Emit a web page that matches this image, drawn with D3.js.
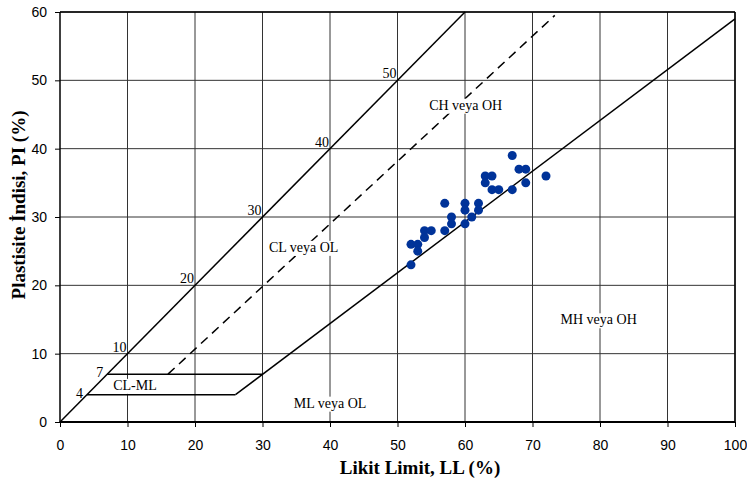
<!DOCTYPE html>
<html>
<head>
<meta charset="utf-8">
<script src="https://cdn.jsdelivr.net/npm/d3@7"></script>
<style>
  body { margin: 0; background: #fff; }
  .tick text { font-family: "Liberation Sans", Arial, sans-serif; font-size: 14px; fill: #000; }
  .lbl { font-family: "Liberation Serif", "Times New Roman", serif; font-size: 14px; fill: #000; }
  .title { font-family: "Liberation Serif", "Times New Roman", serif; font-size: 19px; font-weight: bold; fill: #000; }
</style>
</head>
<body>
<div id="chart"></div>
<script>
// sample points (LL, PI)
var samplesLL = [67, 68, 69, 72, 63, 64, 63, 69, 64, 65, 67, 57, 60, 62, 60, 62, 61, 58, 60, 58, 57, 54, 55, 54, 52, 53, 53, 52];
var samplesPI = [39, 37, 37, 36, 36, 36, 35, 35, 34, 34, 34, 32, 32, 32, 31, 31, 30, 30, 29, 29, 28, 28, 28, 27, 26, 26, 25, 23];

// chart lines
var lineLL45 = [0, 60];        // PI = LL
var linePI45 = [0, 60];
var aLineLL = [26, 100];       // A-line
var aLinePI = [4, 59];
var uLineLL = [16, 73.3];      // U-line (dashed)
var uLinePI = [7, 59.5];
var clmlLow = [[4, 4], [26, 4]];
var clmlHigh = [[7, 7], [30, 7]];

// numbers on the PI = LL line
var diagMarks = [4, 7, 10, 20, 30, 40, 50];

// zone labels
var zoneNames = ["CH veya OH", "CL veya OL", "CL-ML", "ML veya OL", "MH veya OH"];
var zoneLL = [60.1, 36.1, 11.1, 40, 79.8];
var zonePI = [45.7, 24.9, 4.7, 2.1, 14.3];

var xTicks = d3.range(0, 101, 10);
var yTicks = d3.range(0, 61, 10);

var width = 747, height = 483;
var pLeft = 60, pRight = 735, pTop = 12, pBottom = 422;

var svg = d3.select("#chart").append("svg")
  .attr("width", width)
  .attr("height", height);

var x = d3.scaleLinear().domain([0, 100]).range([pLeft, pRight]);
var y = d3.scaleLinear().domain([0, 60]).range([pBottom, pTop]);

// grid
svg.append("g").selectAll("line").data(xTicks.slice(1)).enter().append("line")
  .attr("x1", function(d) { return x(d); }).attr("x2", function(d) { return x(d); })
  .attr("y1", pTop).attr("y2", pBottom)
  .attr("stroke", "#333").attr("stroke-width", 1);
svg.append("g").selectAll("line").data(yTicks.slice(1)).enter().append("line")
  .attr("x1", pLeft).attr("x2", pRight)
  .attr("y1", function(d) { return y(d); }).attr("y2", function(d) { return y(d); })
  .attr("stroke", "#333").attr("stroke-width", 1);

// axes
var xAxis = d3.axisBottom(x).tickValues(xTicks).tickSize(5).tickPadding(13);
var yAxis = d3.axisLeft(y).tickValues(yTicks).tickSize(5).tickPadding(8);
svg.append("g").attr("transform", "translate(0," + pBottom + ")").call(xAxis)
  .call(function(g) { g.select(".domain").attr("stroke-width", 2).attr("d", "M" + pLeft + ",0H" + pRight); });
svg.append("g").attr("transform", "translate(" + pLeft + ",0)").call(yAxis)
  .call(function(g) { g.select(".domain").attr("stroke-width", 1.5).attr("d", "M0," + pBottom + "V" + pTop); });
svg.append("line").attr("x1", pRight).attr("x2", pRight).attr("y1", pTop).attr("y2", pBottom)
  .attr("stroke", "#000").attr("stroke-width", 1.5);
svg.append("line").attr("x1", pLeft).attr("x2", pRight).attr("y1", pTop).attr("y2", pTop)
  .attr("stroke", "#000").attr("stroke-width", 1.5);

var line = d3.line().x(function(d) { return x(d[0]); }).y(function(d) { return y(d[1]); });
function pairs(a, b) { return a.map(function(v, i) { return [v, b[i]]; }); }

svg.append("path").datum(pairs(lineLL45, linePI45)).attr("d", line)
  .attr("fill", "none").attr("stroke", "#000").attr("stroke-width", 1.5);
svg.append("path").datum(pairs(aLineLL, aLinePI)).attr("d", line)
  .attr("fill", "none").attr("stroke", "#000").attr("stroke-width", 1.5);
svg.append("path").datum(pairs(uLineLL, uLinePI)).attr("d", line)
  .attr("fill", "none").attr("stroke", "#000").attr("stroke-width", 1.5)
  .attr("stroke-dasharray", "9,6");
[clmlLow, clmlHigh].forEach(function(p) {
  svg.append("path").datum(p).attr("d", line)
    .attr("fill", "none").attr("stroke", "#000").attr("stroke-width", 1.5);
});

// numbers on diagonal
svg.append("g").selectAll("text").data(diagMarks).enter().append("text")
  .attr("class", "lbl")
  .attr("x", function(d) { return x(d) - (d < 10 ? 4 : 1); })
  .attr("y", function(d) { return y(d) + (d < 10 ? 3 : -2); })
  .attr("text-anchor", "end")
  .text(function(d) { return d; });

// zone labels with white boxes
var zones = svg.append("g").selectAll("g").data(zoneNames).enter().append("g")
  .attr("transform", function(d, i) { return "translate(" + x(zoneLL[i]) + "," + y(zonePI[i]) + ")"; });
zones.append("text")
  .attr("class", "lbl")
  .attr("text-anchor", "middle")
  .text(function(d) { return d; });
zones.each(function() {
  var g = d3.select(this);
  var b = g.select("text").node().getBBox();
  g.insert("rect", "text")
    .attr("x", b.x - 2).attr("y", b.y + 1)
    .attr("width", b.width + 4).attr("height", b.height)
    .attr("fill", "#fff");
});

// points
svg.append("g").selectAll("circle").data(samplesLL).enter().append("circle")
  .attr("cx", function(d) { return x(d); })
  .attr("cy", function(d, i) { return y(samplesPI[i]); })
  .attr("r", 4.5)
  .attr("fill", "#003399");

// titles
svg.append("text").attr("class", "title")
  .attr("x", 420).attr("y", 474)
  .attr("text-anchor", "middle")
  .text("Likit Limit, LL (%)");
svg.append("text").attr("class", "title")
  .attr("transform", "translate(25,205)rotate(-90)")
  .attr("text-anchor", "middle")
  .text("Plastisite İndisi, PI (%)");
</script>
</body>
</html>
